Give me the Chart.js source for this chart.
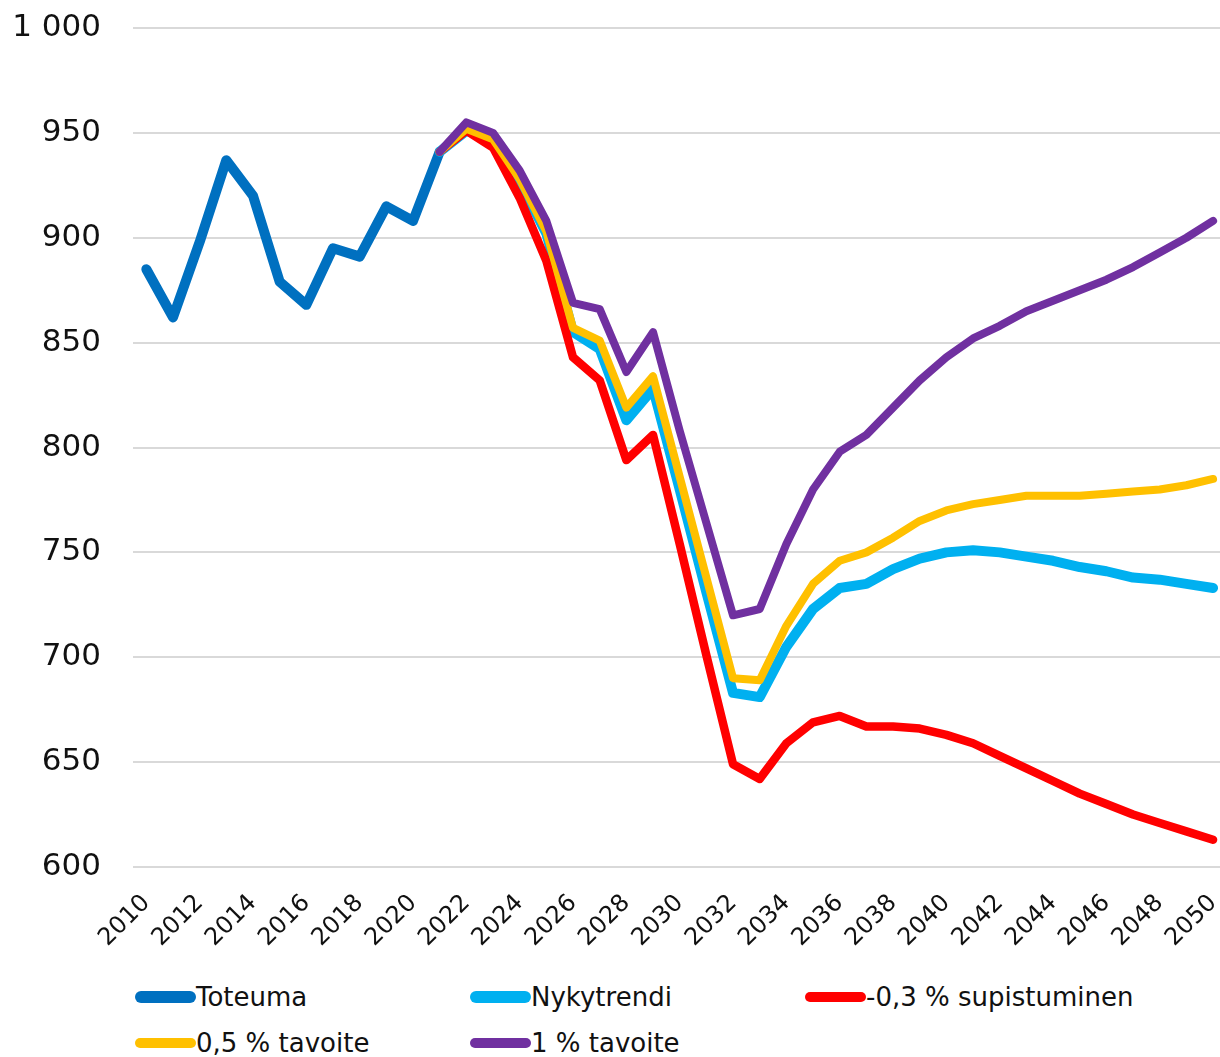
<!DOCTYPE html>
<html>
<head>
<meta charset="utf-8">
<script src="https://cdn.jsdelivr.net/npm/chart.js@4.4.0/dist/chart.umd.min.js"></script>
<style>
  html, body { margin: 0; padding: 0; background: #fff; overflow: hidden; }
  #wrap { position: absolute; left: 0; top: 0; width: 1220px; height: 960px; }
  #legend {
    position: absolute; left: 135px; top: 979px;
    display: grid; grid-template-columns: 335px 335px 335px; row-gap: 10px;
    font-family: "DejaVu Sans", sans-serif; font-size: 26px; color: #111;
  }
  .item { display: flex; align-items: center; height: 36px; white-space: nowrap; }
  .swatch { width: 61px; border-radius: 6px; }
</style>
</head>
<body>
<div id="wrap"><canvas id="chart"></canvas></div>
<div id="legend"></div>
<script>
const years = [];
for (let y = 2010; y <= 2050; y++) years.push(y);

const toteuma = [885, 862, 898, 937, 920, 879, 868, 895, 891, 915, 908, 941];

// ennusteet 2021-2050
const nykytrendi = [941, 951, 947, 927, 902, 855, 847, 813, 828, 780,
  731, 683, 681, 705, 723, 733, 735, 742, 747, 750,
  751, 750, 748, 746, 743, 741, 738, 737, 735, 733];
const supistuminen = [941, 951, 943, 919, 889, 843, 832, 794, 806, 754,
  701, 649, 642, 659, 669, 672, 667, 667, 666, 663,
  659, 653, 647, 641, 635, 630, 625, 621, 617, 613];
const tavoite05 = [941, 952, 947, 928, 903, 857, 851, 819, 834, 786,
  738, 690, 689, 715, 735, 746, 750, 757, 765, 770,
  773, 775, 777, 777, 777, 778, 779, 780, 782, 785];
const tavoite1 = [941, 955, 950, 932, 908, 869, 866, 836, 855, 808,
  764, 720, 723, 754, 780, 798, 806, 819, 832, 843,
  852, 858, 865, 870, 875, 880, 886, 893, 900, 908];

const yTicks = [600, 650, 700, 750, 800, 850, 900, 950, 1000];
const xTicks = [2010, 2012, 2014, 2016, 2018, 2020, 2022, 2024, 2026, 2028, 2030,
  2032, 2034, 2036, 2038, 2040, 2042, 2044, 2046, 2048, 2050];

function points(vals, startYear) {
  return vals.map((v, i) => ({ x: startYear + i, y: v }));
}

const series = [
  { label: 'Toteuma', data: points(toteuma, 2010), color: '#0070C0', width: 10, order: 5 },
  { label: 'Nykytrendi', data: points(nykytrendi, 2021), color: '#00B0F0', width: 10, order: 4 },
  { label: '-0,3 % supistuminen', data: points(supistuminen, 2021), color: '#FF0000', width: 8.5, order: 3 },
  { label: '0,5 % tavoite', data: points(tavoite05, 2021), color: '#FFC000', width: 8, order: 2 },
  { label: '1 % tavoite', data: points(tavoite1, 2021), color: '#7030A0', width: 8, order: 1 }
];

const chart = new Chart(document.getElementById('chart'), {
  type: 'line',
  data: {
    datasets: series.map(s => ({
      label: s.label,
      data: s.data,
      borderColor: s.color,
      backgroundColor: s.color,
      borderWidth: s.width,
      borderCapStyle: 'round',
      borderJoinStyle: 'round',
      pointRadius: 0,
      tension: 0,
      order: s.order
    }))
  },
  options: {
    responsive: true,
    maintainAspectRatio: false,
    animation: false,
    devicePixelRatio: 1,
    layout: { padding: { top: 28, left: 0, right: 0, bottom: 0 } },
    plugins: { legend: { display: false }, tooltip: { enabled: false } },
    scales: {
      x: {
        type: 'linear',
        min: 2009.5,
        max: 2050.26,
        grid: { display: false },
        border: { display: false },
        afterBuildTicks: scale => { scale.ticks = xTicks.map(v => ({ value: v })); },
        afterFit: scale => {
          scale.height = 93;
          scale.paddingLeft = 0;
          scale.paddingRight = 0;
        },
        ticks: {
          minRotation: 45,
          maxRotation: 45,
          autoSkip: false,
          padding: 14,
          color: '#111',
          font: { family: 'DejaVu Sans', size: 24 },
          callback: v => String(v)
        }
      },
      y: {
        min: 600,
        max: 1000,
        afterBuildTicks: scale => { scale.ticks = yTicks.map(v => ({ value: v })); },
        afterFit: scale => {
          scale.width = 133;
          scale.paddingTop = 0;
          scale.paddingBottom = 0;
        },
        grid: { color: '#d9d9d9', lineWidth: 2, drawTicks: false },
        border: { display: false },
        ticks: {
          padding: 32,
          color: '#111',
          font: { family: 'DejaVu Sans', size: 31 },
          callback: v => v >= 1000 ? '1 000' : String(v)
        }
      }
    }
  }
});

// legenda HTML:nä, kolmen sarakkeen ruudukko
const legend = document.getElementById('legend');
chart.data.datasets.forEach(ds => {
  const item = document.createElement('div');
  item.className = 'item';
  item.innerHTML = `<span class="swatch" style="background:${ds.borderColor};height:${ds.borderWidth + 2}px"></span><span>${ds.label}</span>`;
  legend.appendChild(item);
});
</script>
</body>
</html>
